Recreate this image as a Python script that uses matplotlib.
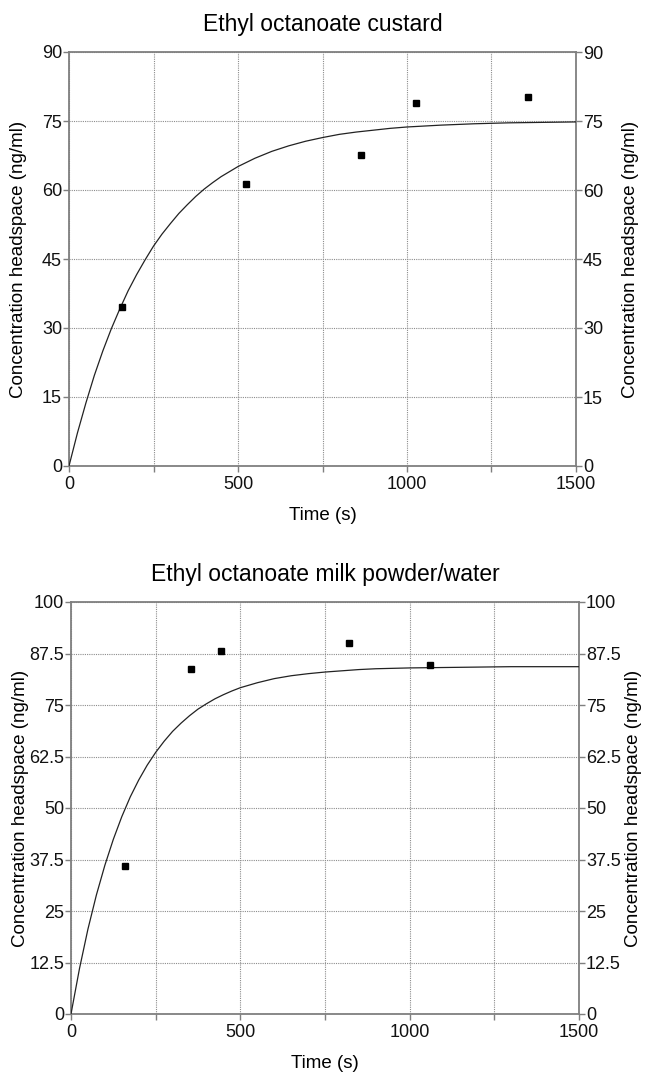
import numpy as np
import matplotlib.pyplot as plt

plt.rcParams['font.family'] = ['Liberation Sans', 'DejaVu Sans']

# --- data ---
# top panel: custard
custard_t = [157, 525, 863, 1028, 1357]
custard_c = [34.6, 61.4, 67.5, 79.0, 80.3]
fit_t = [0, 25, 50, 75, 100, 125, 150, 175, 200, 225, 250, 275, 300, 325, 350, 375,
         400, 425, 450, 475, 500, 550, 600, 650, 700, 750, 800, 850, 900, 950, 1000,
         1100, 1200, 1300, 1400, 1500]
custard_fit_c = [0, 7.2, 13.7, 19.7, 25.0, 29.8, 34.1, 38.1, 41.6, 44.8, 47.8, 50.4, 52.7,
                 54.9, 56.8, 58.6, 60.2, 61.6, 62.9, 64.0, 65.1, 66.9, 68.4, 69.6, 70.6,
                 71.4, 72.1, 72.6, 73.0, 73.4, 73.7, 74.1, 74.4, 74.6, 74.7, 74.8]

# bottom panel: milk powder/water
milk_t = [159, 354, 444, 820, 1060]
milk_c = [36.0, 83.8, 88.1, 90.1, 84.8]
milk_fit_c = [0, 11.0, 20.6, 28.9, 36.1, 42.4, 47.9, 52.7, 56.8, 60.4, 63.5, 66.2, 68.6,
              70.6, 72.4, 74.0, 75.3, 76.5, 77.5, 78.4, 79.2, 80.4, 81.4, 82.1, 82.6,
              83.0, 83.3, 83.6, 83.8, 83.9, 84.0, 84.1, 84.2, 84.3, 84.3, 84.3]

custard_yticks = [0, 15, 30, 45, 60, 75, 90]
milk_yticks = [0, 12.5, 25, 37.5, 50, 62.5, 75, 87.5, 100]
milk_yticklabels = ['0', '12.5', '25', '37.5', '50', '62.5', '75', '87.5', '100']
xticks_grid = [0, 250, 500, 750, 1000, 1250, 1500]
xticklabels = ['0', '', '500', '', '1000', '', '1500']

ylab = 'Concentration headspace (ng/ml)'
tick_fs = 13
lab_fs = 13.5
spine_col = '#7f7f7f'
grid_col = '#8c8c8c'

fig = plt.figure(figsize=(6.49, 10.74), dpi=100)


def panel(rect, title, title_y, t, c, ft, fc, yticks, yticklabels, ymax):
    ax = fig.add_axes(rect)
    ax.plot(ft, fc, color='#222222', lw=0.9, zorder=3)
    ax.plot(t, c, 's', color='black', ms=4, zorder=4)
    ax.set_xlim(0, 1500)
    ax.set_ylim(0, ymax)
    ax.set_xticks(xticks_grid)
    ax.set_xticklabels(xticklabels)
    ax.set_yticks(yticks)
    ax.set_yticklabels(yticklabels)
    ax.grid(True, color=grid_col, lw=0.8, ls=(0, (1, 1)))
    for s in ax.spines.values():
        s.set_color(spine_col)
        s.set_linewidth(1.3)
    ax.tick_params(axis='both', colors=spine_col, labelcolor='#111111', labelsize=tick_fs,
                   length=4, width=1, pad=1)
    ax.tick_params(axis='x', pad=3)
    ax.set_xlabel('Time (s)', fontsize=lab_fs)
    ax.xaxis.set_label_coords(0.5, -0.10)
    ax.set_ylabel(ylab, fontsize=lab_fs)
    ax.yaxis.set_label_coords(-0.083, 0.5)

    ax2 = ax.twinx()
    ax2.set_ylim(0, ymax)
    ax2.set_yticks(yticks)
    ax2.set_yticklabels(yticklabels)
    ax2.tick_params(axis='y', colors=spine_col, labelcolor='#111111', labelsize=tick_fs,
                    length=4, width=1, pad=1)
    for s in ax2.spines.values():
        s.set_visible(False)
    ax2.set_ylabel(ylab, fontsize=lab_fs)
    ax2.yaxis.set_label_coords(1.09, 0.5)

    fig.text(rect[0] + rect[2] / 2, title_y, title, ha='center', va='center', fontsize=16.5)
    return ax


panel([69 / 649, 1 - 466 / 1074, 507 / 649, 414 / 1074], 'Ethyl octanoate custard',
      1 - 25 / 1074, custard_t, custard_c, fit_t, custard_fit_c,
      custard_yticks, [str(v) for v in custard_yticks], 90)
panel([71 / 649, 1 - 1014 / 1074, 508 / 649, 412 / 1074], 'Ethyl octanoate milk powder/water',
      1 - 574 / 1074, milk_t, milk_c, fit_t, milk_fit_c,
      milk_yticks, milk_yticklabels, 100)

fig.savefig('out.png', dpi=100)
